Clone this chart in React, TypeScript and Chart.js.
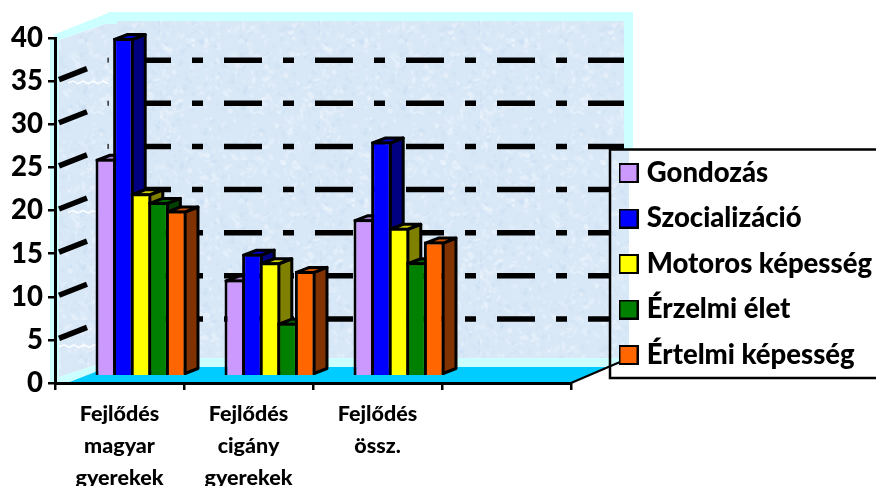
import React, { useEffect, useRef } from "react";
import { Chart, registerables } from "chart.js";

Chart.register(...registerables);

const categories: (string[] | string)[] = [
  ["Fejlődés", "magyar", "gyerekek"],
  ["Fejlődés", "cigány", "gyerekek"],
  ["Fejlődés", "össz."],
  "",
];
const seriesNames = ["Gondozás", "Szocializáció", "Motoros képesség", "Érzelmi élet", "Értelmi képesség"];
const gondozas = [26, 12, 19];
const szocializacio = [40, 15, 28];
const motoros = [22, 14, 18];
const erzelmi = [21, 7, 14];
const ertelmi = [20, 13, 16.4];
const seriesValues = [gondozas, szocializacio, motoros, erzelmi, ertelmi];
const frontColors = ["#CC99FF", "#0000FF", "#FFFF00", "#008000", "#FF6600"];
const sideColors = ["#664C80", "#000080", "#808000", "#004000", "#803300"];
const topColors = ["#A37ACC", "#0000CC", "#CCCC00", "#006600", "#CC5200"];
const yTicks = [0, 5, 10, 15, 20, 25, 30, 35, 40];

const FONT = "Lato, Carlito, sans-serif";
const WALL_DX = 53;
const WALL_DY = 21;
const BAR_SHIFT = 21.5;
const BAR_DX = 13;
const BAR_DY = 5;
const BAR_BASE = 0.93;
const BAR_LINE = 3;
const CYAN = "#CCFFFF";
const FLOOR = "#00CCFF";

function makeTexture(ctx: CanvasRenderingContext2D) {
  const c = document.createElement("canvas");
  c.width = 160;
  c.height = 160;
  const t = c.getContext("2d")!;
  t.fillStyle = "#D9E8F7";
  t.fillRect(0, 0, 160, 160);
  let s = 12345;
  const r = () => {
    s = (s * 1103515245 + 12345) & 0x7fffffff;
    return s / 0x7fffffff;
  };
  for (let i = 0; i < 700; i++) {
    const light = r() > 0.45;
    t.fillStyle = light ? `rgba(245,250,255,${0.12 + r() * 0.3})` : `rgba(195,220,242,${0.1 + r() * 0.3})`;
    t.beginPath();
    t.ellipse(r() * 160, r() * 160, 1 + r() * 3.5, 0.6 + r() * 2, r() * 3.14, 0, 6.3);
    t.fill();
  }
  return ctx.createPattern(c, "repeat")!;
}

function poly(ctx: CanvasRenderingContext2D, pts: number[][], fill: any) {
  ctx.beginPath();
  pts.forEach((p, i) => (i ? ctx.lineTo(p[0], p[1]) : ctx.moveTo(p[0], p[1])));
  ctx.closePath();
  ctx.fillStyle = fill;
  ctx.fill();
}

const wallPlugin = {
  id: "walls",
  beforeDraw(chart: any) {
    const { ctx, scales } = chart;
    const x = scales.x;
    const y = scales.y;
    const L = x.left;
    const R = x.right;
    const y0 = y.getPixelForValue(0);
    const yTop = y.getPixelForValue(40);
    const backL = L + WALL_DX;
    const backB = y0 - WALL_DY;
    const backR = R + WALL_DX;
    const tex = makeTexture(ctx);
    const legendTop = 149;
    const legendX = 610;
    ctx.save();
    ctx.fillStyle = "#FFFFFF";
    ctx.fillRect(0, 0, chart.width, chart.height);
    // back wall with its light frame
    ctx.fillStyle = CYAN;
    ctx.fillRect(backL, 12, backR + 9 - backL, legendTop - 12);
    ctx.fillRect(backL, legendTop, 629 - backL, backB + 5 - legendTop);
    ctx.fillStyle = tex;
    ctx.fillRect(backL + 9, 21, backR - backL - 9, backB - 4 - 21);
    ctx.fillRect(backR, legendTop, 5, backB - 4 - legendTop);
    ctx.fillRect(backL, 24, 9, backB - 4 - 24);
    // left wall
    poly(ctx, [[L + 4, yTop + 2], [backL, 23], [backL, backB - 1], [L + 4, y0 - 6]], tex);
    poly(ctx, [[L - 2, yTop - 3], [backL, 13], [backL, 23], [L + 4, yTop + 2]], CYAN);
    poly(ctx, [[L + 4, y0 - 6], [backL, backB - 1], [backL, backB + 5], [L + 12, y0], [L + 4, y0]], CYAN);
    ctx.fillStyle = CYAN;
    ctx.fillRect(L - 5, yTop, 9, y0 - yTop);
    // floor
    poly(ctx, [[L + 12, y0], [backL, backB + 5], [617, backB + 5], [R, y0]], FLOOR);
    poly(ctx, [[R, y0], [620, backB], [629, backB], [629, backB + 5], [609, backB + 5]], FLOOR);
    poly(ctx, [[R, y0], [620, backB + 1], [629, backB + 1], [629, y0], [R, y0 + 2]], "#FFFFFF");
    ctx.strokeStyle = "#000";
    ctx.lineWidth = 2;
    ctx.beginPath();
    ctx.moveTo(R, y0);
    ctx.lineTo(620, backB);
    ctx.stroke();

    // value grid lines: left wall then back wall
    ctx.strokeStyle = "#000";
    ctx.lineWidth = 5.5;
    yTicks.slice(1, -1).forEach((v) => {
      const py = y.getPixelForValue(v);
      const by = py - WALL_DY;
      ctx.setLineDash([]);
      ctx.beginPath();
      ctx.moveTo(L + 4, py - 1.5);
      ctx.lineTo(L + 32, py - 12.5);
      ctx.stroke();
      ctx.fillStyle = "#000";
      ctx.fillRect(backL - 0.5, by - 2.5, 1.2, 5);
      ctx.setLineDash([38, 21, 11, 21]);
      ctx.beginPath();
      ctx.moveTo(133, by);
      ctx.lineTo(by < legendTop ? backR : legendX, by);
      ctx.stroke();
      ctx.setLineDash([]);
    });
    // white seams in the left wall texture
    ctx.strokeStyle = "rgba(255,255,255,0.95)";
    ctx.lineWidth = 1.5;
    [35, 20, 5].forEach((v) => {
      const py = y.getPixelForValue(v) + (v === 5 ? 6 : 1);
      const sx = v === 5 ? L + 4 : L + 13;
      ctx.beginPath();
      ctx.moveTo(sx, py + 1);
      for (let i = 1; i <= 8; i++) ctx.lineTo(sx + i * 5, py + (i % 2 ? -1 : 1.5));
      ctx.stroke();
    });
    ctx.restore();

    if (chart.legend) {
      chart.legend.left = 624 - 18;
      chart.legend.top = 141.25;
      chart.legend.right = chart.width;
      chart.legend.bottom = chart.height;
    }
  },
  // Paint the datasets left to right so each bar hides the depth faces of the one before it.
  beforeDatasetsDraw(chart: any) {
    const { ctx } = chart;
    ctx.save();
    ctx.translate(BAR_SHIFT, 0);
    ctx.strokeStyle = "#000";
    ctx.lineWidth = BAR_LINE;
    ctx.lineJoin = "round";
    seriesNames.forEach((_, i) => {
      const meta = chart.getDatasetMeta(i);
      meta.data.forEach((bar: any) => {
        if (bar.skip || bar.y == null || isNaN(bar.y)) return;
        const l = bar.x - bar.width / 2 + 1.5;
        const r = bar.x + bar.width / 2 - 1.5;
        const t = bar.y + 1.5;
        const b = bar.base - 1.5;
        poly(ctx, [[r, t], [r + BAR_DX, t - BAR_DY], [r + BAR_DX, b - BAR_DY], [r, b]], sideColors[i]);
        ctx.stroke();
        poly(ctx, [[l, t], [l + BAR_DX, t - BAR_DY], [r + BAR_DX, t - BAR_DY], [r, t]], topColors[i]);
        ctx.stroke();
      });
      meta.controller.draw();
    });
    ctx.restore();
  },
  beforeDatasetDraw() {
    return false;
  },
  afterDraw(chart: any) {
    const { ctx } = chart;
    ctx.save();
    ctx.strokeStyle = "#000";
    ctx.lineWidth = 2.5;
    ctx.strokeRect(610, 149.5, 300, 228.5);
    ctx.restore();
  },
};

function swatch(color: string) {
  const c = document.createElement("canvas");
  c.width = 20;
  c.height = 20;
  const t = c.getContext("2d")!;
  t.fillStyle = "#000";
  t.fillRect(0, 0, 20, 20);
  t.fillStyle = color;
  t.fillRect(2, 2, 16, 16);
  return c;
}

export default function App() {
  const ref = useRef<HTMLCanvasElement>(null);
  useEffect(() => {
    const chart = new Chart(ref.current!, {
      type: "bar",
      data: {
        labels: categories as any,
        datasets: seriesNames.map((name, i) => ({
          label: name,
          data: seriesValues[i],
          backgroundColor: frontColors[i],
          borderColor: "#000",
          borderWidth: BAR_LINE,
          base: BAR_BASE,
          categoryPercentage: 0.682,
          barPercentage: 1.17,
        })) as any,
      },
      plugins: [wallPlugin],
      options: {
        responsive: false,
        animation: false,
        layout: { autoPadding: false, padding: { left: 0, top: 38, right: 305, bottom: 0 } },
        plugins: {
          tooltip: { enabled: false },
          title: { display: false },
          legend: {
            position: "chartArea",
            align: "start",
            labels: {
              usePointStyle: true,
              pointStyleWidth: 9,
              padding: 18,
              color: "#000",
              font: { family: FONT, size: 27.5, weight: "900" },
              generateLabels: () =>
                seriesNames.map((text, i) => ({
                  text,
                  datasetIndex: i,
                  pointStyle: swatch(frontColors[i]),
                  fontColor: "#000",
                  lineWidth: 0,
                })),
            },
          },
        },
        scales: {
          x: {
            afterFit: (s: any) => {
              s.height = 103;
            },
            border: { color: "#000", width: 3 },
            grid: { drawOnChartArea: false, drawTicks: true, tickLength: 7, color: "#000", lineWidth: 2.5 },
            ticks: {
              autoSkip: false,
              maxRotation: 0,
              minRotation: 0,
              color: "#000",
              padding: 8,
              font: { family: FONT, size: 21.5, weight: "900", lineHeight: 1.49 },
            },
          },
          y: {
            min: 0,
            max: 40,
            afterFit: (s: any) => {
              s.width = 55;
            },
            afterBuildTicks: (s: any) => {
              s.ticks = yTicks.map((value) => ({ value }));
            },
            border: { color: "#000", width: 3 },
            grid: { drawOnChartArea: false, drawTicks: true, tickLength: 7, color: "#000", lineWidth: 2.5 },
            ticks: {
              color: "#000",
              padding: 5,
              font: { family: FONT, size: 27.5, weight: "900" },
            },
          },
        },
      } as any,
    });
    return () => chart.destroy();
  }, []);
  return (
    <canvas
      ref={ref}
      width={876}
      height={486}
      style={{ position: "absolute", left: 0, top: 0, display: "block" }}
    />
  );
}
